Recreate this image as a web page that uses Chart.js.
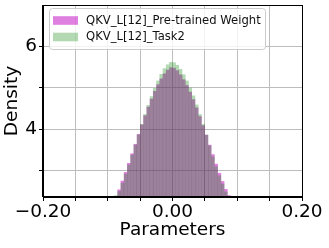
<!DOCTYPE html>
<html>
<head>
<meta charset="utf-8">
<script src="https://cdn.jsdelivr.net/npm/chart.js@4"></script>
<style>
  html, body { margin: 0; padding: 0; background: #fff; }
  #wrap { width: 329px; height: 248px; }
</style>
</head>
<body>
<div id="wrap"><canvas id="myChart" width="329" height="248"></canvas></div>
<script>
// histogram bins (centres), bin width 0.005
const binCenters = [-0.0875, -0.0825, -0.0775, -0.0725, -0.0675, -0.0625, -0.0575, -0.0525, -0.0475,
  -0.0425, -0.0375, -0.0325, -0.0275, -0.0225, -0.0175, -0.0125, -0.0075, -0.0025,
  0.0025, 0.0075, 0.0125, 0.0175, 0.0225, 0.0275, 0.0325, 0.0375, 0.0425,
  0.0475, 0.0525, 0.0575, 0.0625, 0.0675, 0.0725, 0.0775, 0.0825, 0.0875]

const pretrained = [2.36, 2.54, 2.75, 2.96, 3.18, 3.41, 3.64, 3.88, 4.11,
  4.33, 4.54, 4.73, 4.92, 5.08, 5.22, 5.34, 5.43, 5.49,
  5.48, 5.42, 5.32, 5.20, 5.06, 4.90, 4.72, 4.52, 4.31,
  4.09, 3.86, 3.62, 3.39, 3.16, 2.94, 2.74, 2.55, 2.40]

const task2 = [2.40, 2.50, 2.70, 2.92, 3.14, 3.38, 3.62, 3.87, 4.12,
  4.36, 4.58, 4.79, 4.99, 5.17, 5.33, 5.47, 5.56, 5.62,
  5.61, 5.55, 5.45, 5.32, 5.17, 5.00, 4.81, 4.59, 4.36,
  4.12, 3.86, 3.60, 3.34, 3.10, 2.88, 2.68, 2.49, 2.33]

const labels = ["QKV_L[12]_Pre-trained Weight", "QKV_L[12]_Task2"]
const xTicks = [-0.2, -0.15, -0.1, -0.05, 0, 0.05, 0.1, 0.15, 0.2]
const xLabeled = [-0.2, 0, 0.2]
const yTicks = [3, 4, 5, 6]
const yLabeled = [4, 6]

const pink = "rgba(191, 0, 191, 0.5)"
const green = "rgba(0, 128, 0, 0.3)"
const FONT = "DejaVu Sans"

function toPoints(vals) {
  return binCenters.map(function (c, i) { return {x: c, y: vals[i]} })
}

function fmtX(v) {
  let s = Math.abs(v).toFixed(2)
  return v < -1e-9 ? "\u2212" + s : s
}

// frame + legend drawn on top of the plot
const frameLegend = {
  id: "frameLegend",
  afterDraw(chart) {
    const ctx = chart.ctx
    const a = chart.chartArea
    ctx.save()
    ctx.strokeStyle = "#000"
    ctx.lineWidth = 1
    ctx.strokeRect(Math.round(a.left) - 0.5, Math.round(a.top) + 0.5,
      Math.round(a.right) - Math.round(a.left) + 1, Math.round(a.bottom) - Math.round(a.top) - 1)

    // legend box
    ctx.beginPath()
    ctx.roundRect(49.5, 8.5, 216, 41, 3)
    ctx.fillStyle = "rgba(255,255,255,0.8)"
    ctx.fill()
    ctx.strokeStyle = "#cccccc"
    ctx.stroke()

    const cols = [pink, green]
    const ys = [20.5, 37]
    ctx.font = "11.6px '" + FONT + "'"
    ctx.textBaseline = "middle"
    ctx.textAlign = "left"
    for (let i = 0; i < 2; i++) {
      ctx.fillStyle = cols[i]
      ctx.fillRect(53, ys[i] - 4.3, 25, 8.6)
      ctx.fillStyle = "#111"
      ctx.fillText(labels[i], 86, ys[i])
    }
    ctx.restore()
  }
}

function noPad(axis) {
  axis.paddingTop = 0
  axis.paddingBottom = 0
  axis.paddingLeft = 0
  axis.paddingRight = 0
}

var ctx = document.getElementById('myChart').getContext('2d')
var chart = new Chart(ctx, {
  type: 'bar',
  data: {
    datasets: [{
      label: labels[0],
      data: toPoints(pretrained),
      backgroundColor: pink,
      order: 2
    }, {
      label: labels[1],
      data: toPoints(task2),
      backgroundColor: green,
      order: 1
    }]
  },
  options: {
    responsive: false,
    animation: false,
    layout: {padding: {top: 5, right: 27, left: 0, bottom: 0}},
    datasets: {
      bar: {grouped: false, barPercentage: 1, categoryPercentage: 1, borderWidth: 0, inflateAmount: 0.1}
    },
    plugins: {legend: {display: false}, tooltip: {enabled: false}},
    scales: {
      x: {
        type: 'linear',
        min: -0.2,
        max: 0.2,
        offset: false,
        afterBuildTicks: function (axis) { axis.ticks = xTicks.map(function (v) { return {value: v} }) },
        afterFit: function (axis) { axis.height = 51; noPad(axis) },
        grid: {offset: false, color: "#bdbdbd", lineWidth: 1, tickColor: "#000", tickLength: 4},
        border: {display: true, color: "#000"},
        ticks: {
          autoSkip: false,
          maxRotation: 0,
          padding: 0,
          color: "#000",
          font: {family: FONT, size: 18.5},
          callback: function (v) {
            return xLabeled.some(function (t) { return Math.abs(t - v) < 1e-9 }) ? fmtX(v) : ""
          }
        },
        title: {
          display: true,
          text: "Parameters",
          color: "#000",
          font: {family: FONT, size: 18.5},
          padding: {top: 0, bottom: 7}
        }
      },
      y: {
        min: 2.36,
        max: 7.0,
        afterBuildTicks: function (axis) { axis.ticks = yTicks.map(function (v) { return {value: v} }) },
        afterFit: function (axis) { axis.width = 43; noPad(axis) },
        grid: {color: "#bdbdbd", lineWidth: 1, tickColor: "#000", tickLength: 4},
        border: {display: true, color: "#000"},
        ticks: {
          padding: 2,
          color: "#000",
          font: {family: FONT, size: 18.5},
          callback: function (v) { return yLabeled.indexOf(v) >= 0 ? String(v) : "" }
        },
        title: {
          display: true,
          text: "Density",
          color: "#000",
          font: {family: FONT, size: 18.5},
          padding: {top: 1, bottom: 0}
        }
      }
    }
  },
  plugins: [frameLegend]
})
</script>
</body>
</html>
